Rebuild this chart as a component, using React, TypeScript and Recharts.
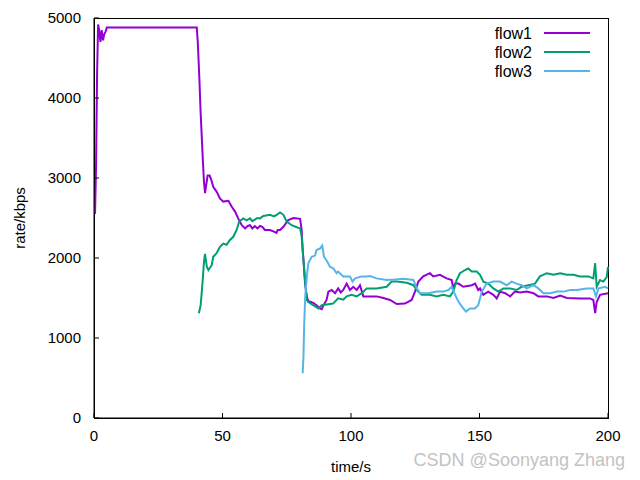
import { Line, LineChart, XAxis, YAxis } from "recharts";

// [time/s, rate/kbps]
const flow1: [number, number][] = [
  [0.4, 2550], [0.8, 3150], [1.2, 4300], [1.6, 4920], [2, 4850], [2.5, 4700], [3, 4850],
  [3.5, 4720], [4, 4800], [4.5, 4830], [5, 4880], [40, 4880], [40.4, 4690], [41, 4240],
  [41.5, 3810], [42, 3470], [42.4, 3190], [42.8, 2950], [43.2, 2810], [43.6, 2900],
  [44.2, 3030], [45, 3030], [45.6, 2980], [46.4, 2890], [47.7, 2830], [49, 2745],
  [50.3, 2705], [52.3, 2715], [53.6, 2640], [54.9, 2580], [56.1, 2495], [57.5, 2410],
  [58.8, 2370], [59.8, 2400], [60.7, 2410], [61.6, 2370], [62.6, 2400], [63.6, 2370],
  [64.6, 2400], [65.5, 2390], [66.5, 2350], [68.5, 2350], [70, 2330], [71, 2315],
  [71.5, 2350], [72.4, 2350], [73.7, 2390], [75.6, 2475], [77.6, 2500], [80.2, 2490],
  [80.8, 2350], [81.2, 2100], [81.7, 1890], [82.1, 1690], [82.8, 1520], [83.4, 1455],
  [84, 1455], [85.3, 1440], [86.6, 1410], [87.9, 1370], [88.6, 1360], [89.3, 1410],
  [90.5, 1475], [91.2, 1580], [92.5, 1600], [93.8, 1560], [95, 1620], [96, 1570],
  [97, 1600], [98.3, 1680], [99.6, 1600], [100.9, 1640], [102.2, 1600], [103.5, 1660],
  [104.8, 1520], [107.4, 1520], [110, 1520], [112.6, 1500], [115.2, 1475], [117.8, 1425],
  [121, 1430], [123.6, 1475], [124.9, 1580], [126.2, 1705], [128.1, 1770], [130.7, 1810],
  [132, 1770], [134.6, 1790], [137.2, 1745], [139.2, 1725], [139.8, 1620], [140.5, 1680],
  [141.8, 1680], [143.7, 1640], [147, 1660], [148.3, 1680], [149.5, 1600], [150.2, 1620],
  [151.5, 1540], [153.4, 1580], [155.4, 1540], [156.7, 1495], [158, 1580], [160, 1560],
  [161.9, 1520], [163.8, 1580], [165.8, 1570], [168.4, 1580], [171, 1560], [172.9, 1520],
  [176.2, 1520], [178.8, 1500], [181.4, 1530], [184, 1500], [189.1, 1495], [193, 1495],
  [194.3, 1475], [195, 1310], [195.6, 1450], [196.9, 1540], [200, 1560],
];

const flow2: [number, number][] = [
  [40.8, 1310], [41.5, 1410], [41.9, 1560], [42.3, 1725], [42.8, 1955], [43.2, 2050],
  [43.9, 1890], [44.5, 1850], [45.8, 1910], [46.4, 2015], [47.7, 2060], [49, 2140],
  [50.3, 2180], [51.6, 2165], [52.9, 2225], [54.2, 2265], [55.5, 2350], [56.5, 2455],
  [58.1, 2495], [59.4, 2470], [60.7, 2495], [61.6, 2460], [62.6, 2480], [63.5, 2500],
  [64.6, 2495], [65.9, 2525], [68.5, 2540], [70, 2520], [71.1, 2540], [72.4, 2570],
  [73.7, 2540], [75, 2455], [76.9, 2410], [78.9, 2385], [80.2, 2370], [80.8, 2270],
  [81.2, 2100], [81.7, 1890], [82.2, 1690], [82.8, 1475], [83.4, 1450], [85.3, 1410],
  [87.3, 1370], [88.6, 1410], [90.5, 1420], [93, 1430], [95, 1495], [97, 1480],
  [98.3, 1520], [100.2, 1540], [102.2, 1520], [104.2, 1560], [106.1, 1620], [110, 1620],
  [113.9, 1640], [115.8, 1705], [117.8, 1705], [121.7, 1690], [124.3, 1660], [125.6, 1600],
  [127.5, 1540], [130.7, 1540], [133.3, 1520], [135.9, 1540], [138.5, 1520], [139.8, 1580],
  [141.1, 1725], [142.4, 1810], [144.4, 1850], [145.6, 1870], [147, 1830], [148.9, 1830],
  [150.2, 1790], [151.5, 1705], [153.4, 1680], [155.4, 1620], [157.3, 1580], [159.3, 1620],
  [161.9, 1620], [164.4, 1600], [166.4, 1640], [169, 1660], [171.6, 1680], [173.5, 1770],
  [176.2, 1810], [178.8, 1790], [181.4, 1810], [184, 1790], [186.6, 1790], [189.1, 1770],
  [192.4, 1770], [194.3, 1745], [195, 1935], [195.6, 1640], [196.9, 1725], [198.2, 1705],
  [199.5, 1760], [200, 1890],
];

const flow3: [number, number][] = [
  [81.2, 560], [81.5, 765], [81.8, 1180], [82.2, 1520], [82.8, 1765], [83.4, 1935],
  [84.7, 2015], [86, 2030], [86.6, 2100], [88, 2120], [88.8, 2155], [89.5, 2015],
  [90.5, 1970], [91.8, 1890], [93.1, 1870], [94.4, 1810], [95, 1830], [97, 1770],
  [99.6, 1770], [100.6, 1705], [101.6, 1745], [104.2, 1770], [106.1, 1770], [107.4, 1775],
  [110, 1745], [113.9, 1725], [117.1, 1730], [120.4, 1740], [124.3, 1725], [125.6, 1620],
  [126.9, 1560], [130.1, 1560], [133.3, 1580], [135.9, 1580], [137.9, 1600], [139.2, 1640],
  [140.5, 1540], [141.8, 1455], [143.1, 1395], [144.7, 1330], [146.3, 1370], [148.2, 1370],
  [149.5, 1410], [150.9, 1580], [152.8, 1680], [155.4, 1705], [158, 1705], [160.6, 1660],
  [162.5, 1705], [164.4, 1680], [166.4, 1660], [168.4, 1620], [171, 1660], [172.9, 1620],
  [174.9, 1560], [177.5, 1560], [180.1, 1580], [182.7, 1580], [185.3, 1600], [187.9, 1600],
  [191.7, 1620], [194.3, 1620], [195.3, 1520], [196.3, 1620], [198.9, 1640], [200, 1620],
];

const xTicks = [0, 50, 100, 150, 200];
const yTicks = [0, 1000, 2000, 3000, 4000, 5000];

const series = [
  { name: "flow1", points: flow1, color: "#9400d3" },
  { name: "flow2", points: flow2, color: "#009e73" },
  { name: "flow3", points: flow3, color: "#56b4e9" },
];

const toRows = (pts: [number, number][]) => pts.map(([t, v]) => ({ t, v }));

const font = "'Liberation Sans', Arial, sans-serif";
const ink = "#010101";
const tickStyle = { fontSize: 15, fill: "#000", fontFamily: font };

export default function App() {
  return (
    <div style={{ position: "absolute", left: 0, top: 0, width: 640, height: 480, background: "#fff", fontFamily: font }}>
      {/* plot frame */}
      <div style={{ position: "absolute", left: 94, top: 18, width: 513, height: 399, border: `1px solid ${ink}` }} />
      <LineChart
        width={640}
        height={480}
        margin={{ top: 18, right: 32, bottom: 0, left: 0 }}
        style={{ position: "absolute", left: 0, top: 0 }}
      >
        <XAxis
          dataKey="t"
          type="number"
          domain={[0, 200]}
          ticks={xTicks}
          height={62}
          tickSize={-5}
          tickMargin={17}
          tick={tickStyle}
          stroke={ink}
        />
        <YAxis
          type="number"
          domain={[0, 5000]}
          ticks={yTicks}
          width={94}
          tickSize={-5}
          tickMargin={18}
          tick={tickStyle}
          stroke={ink}
        />
        {series.map((s) => (
          <Line
            key={s.name}
            data={toRows(s.points)}
            dataKey="v"
            name={s.name}
            type="linear"
            stroke={s.color}
            strokeWidth={2}
            dot={false}
            activeDot={false}
            isAnimationActive={false}
          />
        ))}
      </LineChart>
      {/* axis titles, key and watermark */}
      <div style={{ position: "absolute", left: 19, top: 218, transform: "translate(-50%, -50%) rotate(-90deg)", fontSize: 15, whiteSpace: "nowrap" }}>
        rate/kbps
      </div>
      <div style={{ position: "absolute", left: 351, top: 466, transform: "translate(-50%, -50%)", fontSize: 15, whiteSpace: "nowrap" }}>
        time/s
      </div>
      <svg width={120} height={60} style={{ position: "absolute", left: 480, top: 22 }}>
        {series.map((s, i) => (
          <g key={s.name}>
            <text x={52} y={11 + i * 19} dy="0.35em" textAnchor="end" fontSize={16} fontFamily={font} fill="#000">
              {s.name}
            </text>
            <line x1={64} x2={110} y1={11 + i * 19} y2={11 + i * 19} stroke={s.color} strokeWidth={2} />
          </g>
        ))}
      </svg>
      <div style={{ position: "absolute", right: 15, top: 450, fontSize: 18, color: "#c3c3c3", whiteSpace: "nowrap" }}>
        CSDN @Soonyang Zhang
      </div>
    </div>
  );
}
